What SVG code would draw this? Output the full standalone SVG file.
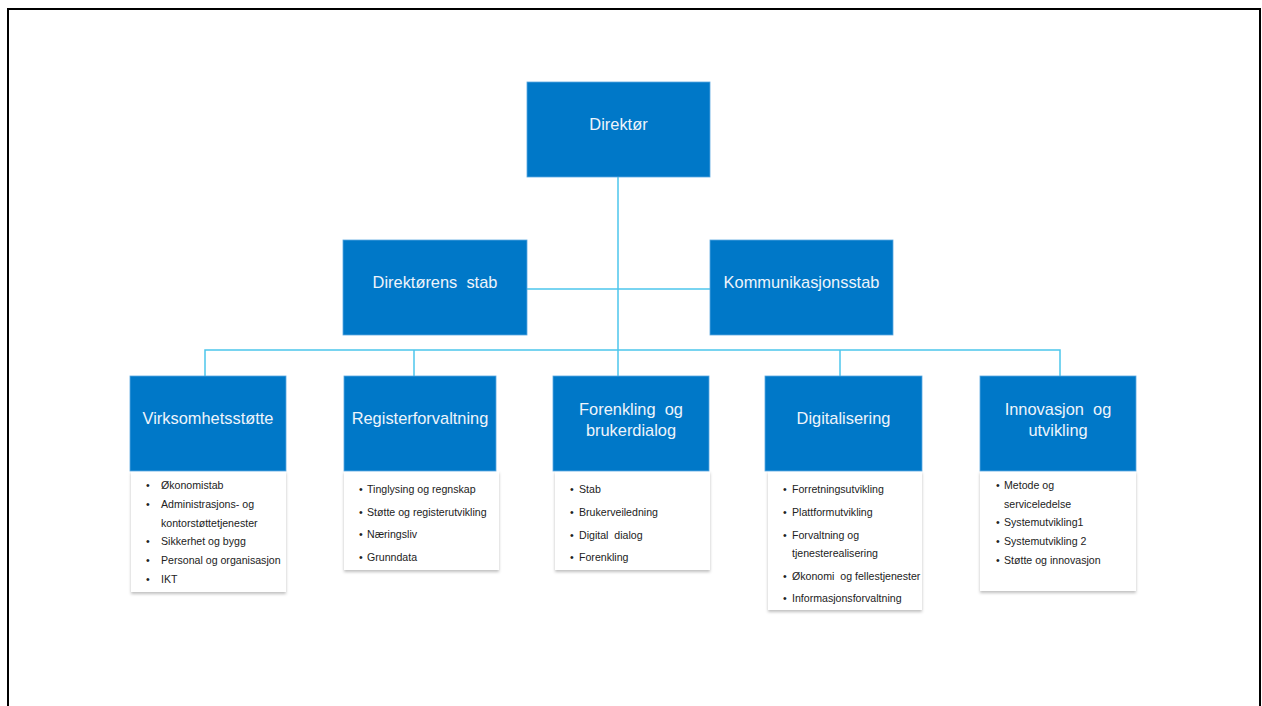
<svg xmlns="http://www.w3.org/2000/svg" width="1262" height="706" viewBox="0 0 1262 706">
<defs>
<filter id="sh" x="-10%" y="-10%" width="120%" height="130%">
<feDropShadow dx="0" dy="2" stdDeviation="1.5" flood-color="#000" flood-opacity="0.25"/>
</filter>
<style>
.box{fill:#0078c8;stroke:#5aa8e0;stroke-width:0.8}
.t{font-family:"Liberation Sans",Arial,sans-serif;font-size:16.4px;fill:#eef4fb;text-anchor:middle;white-space:pre}
.card{fill:#fff;filter:url(#sh)}
.l{font-family:"Liberation Sans",Arial,sans-serif;font-size:10.6px;fill:#222;white-space:pre}
.c{stroke:#4cc6ec;stroke-width:1.5;fill:none}
</style>
</defs>
<rect x="0" y="0" width="1262" height="706" fill="#fff"/>
<path d="M8,706 V9 H1260 V706" fill="none" stroke="#000" stroke-width="2"/>
<g id="connectors">
<path class="c" d="M618,177 V376"/>
<path class="c" d="M527,289 H710"/>
<path class="c" d="M205,376 V350 H1060 V376"/>
<path class="c" d="M414,350 V376"/>
<path class="c" d="M840,350 V376"/>
</g>
<g id="direktor">
<rect class="box" x="527" y="82" width="183" height="95"/>
<text class="t" x="618.5" y="130">Direktør</text>
</g>
<g id="direktorens-stab">
<rect class="box" x="343" y="240" width="184" height="95"/>
<text class="t" x="435" y="288" xml:space="preserve">Direktørens  stab</text>
</g>
<g id="kommunikasjonsstab">
<rect class="box" x="710" y="240" width="183" height="95"/>
<text class="t" x="801.5" y="288">Kommunikasjonsstab</text>
</g>
<g id="virksomhetsstotte">
<rect class="card" x="131" y="471" width="155" height="121"/>
<rect class="box" x="130" y="376" width="156" height="95"/>
<text class="t" x="208" y="424">Virksomhetsstøtte</text>
<g class="l">
<text x="146" y="489">•</text><text x="161" y="489">Økonomistab</text>
<text x="146" y="508">•</text><text x="161" y="508">Administrasjons- og</text>
<text x="161" y="527">kontorstøttetjenester</text>
<text x="146" y="545">•</text><text x="161" y="545">Sikkerhet og bygg</text>
<text x="146" y="564">•</text><text x="161" y="564">Personal og organisasjon</text>
<text x="146" y="583">•</text><text x="161" y="583">IKT</text>
</g>
</g>
<g id="registerforvaltning">
<rect class="card" x="344" y="471" width="155" height="99"/>
<rect class="box" x="344" y="376" width="152" height="95"/>
<text class="t" x="420" y="424">Registerforvaltning</text>
<g class="l">
<text x="359" y="493">•</text><text x="367" y="493">Tinglysing og regnskap</text>
<text x="359" y="516">•</text><text x="367" y="516">Støtte og registerutvikling</text>
<text x="359" y="538">•</text><text x="367" y="538">Næringsliv</text>
<text x="359" y="561">•</text><text x="367" y="561">Grunndata</text>
</g>
</g>
<g id="forenkling">
<rect class="card" x="555" y="471" width="155" height="99"/>
<rect class="box" x="553" y="376" width="156" height="95"/>
<text class="t" x="631" y="415" xml:space="preserve">Forenkling  og</text>
<text class="t" x="631" y="436">brukerdialog</text>
<g class="l">
<text x="570" y="493">•</text><text x="579" y="493">Stab</text>
<text x="570" y="516">•</text><text x="579" y="516">Brukerveiledning</text>
<text x="570" y="539">•</text><text x="579" y="539" xml:space="preserve">Digital  dialog</text>
<text x="570" y="561">•</text><text x="579" y="561">Forenkling</text>
</g>
</g>
<g id="digitalisering">
<rect class="card" x="768" y="471" width="154" height="139"/>
<rect class="box" x="765" y="376" width="157" height="95"/>
<text class="t" x="843.5" y="424">Digitalisering</text>
<g class="l">
<text x="783" y="493">•</text><text x="792" y="493">Forretningsutvikling</text>
<text x="783" y="516">•</text><text x="792" y="516">Plattformutvikling</text>
<text x="783" y="539">•</text><text x="792" y="539">Forvaltning og</text>
<text x="792" y="557">tjenesterealisering</text>
<text x="783" y="580">•</text><text x="792" y="580" xml:space="preserve">Økonomi  og fellestjenester</text>
<text x="783" y="602">•</text><text x="792" y="602">Informasjonsforvaltning</text>
</g>
</g>
<g id="innovasjon">
<rect class="card" x="980" y="471" width="156" height="120"/>
<rect class="box" x="980" y="376" width="156" height="95"/>
<text class="t" x="1058" y="415" xml:space="preserve">Innovasjon  og</text>
<text class="t" x="1058" y="436">utvikling</text>
<g class="l">
<text x="996" y="489">•</text><text x="1004" y="489">Metode og</text>
<text x="1004" y="508">serviceledelse</text>
<text x="996" y="526">•</text><text x="1004" y="526">Systemutvikling1</text>
<text x="996" y="545">•</text><text x="1004" y="545">Systemutvikling 2</text>
<text x="996" y="564">•</text><text x="1004" y="564">Støtte og innovasjon</text>
</g>
</g>
</svg>
